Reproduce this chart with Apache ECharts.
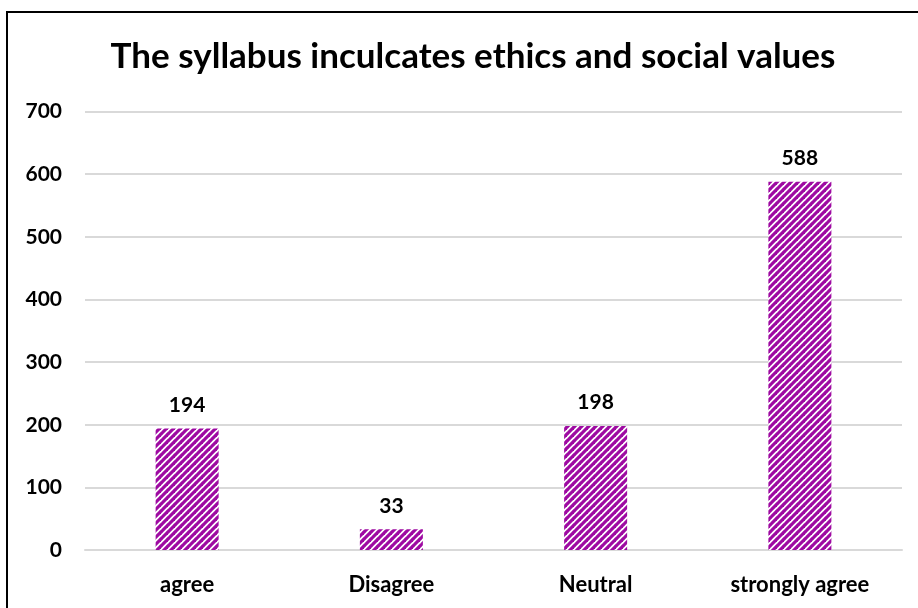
<!DOCTYPE html>
<html>
<head>
<meta charset="utf-8">
<script src="https://cdn.jsdelivr.net/npm/echarts@6/dist/echarts.min.js"></script>
<style>
html,body{margin:0;padding:0;background:#fff;}
#chart{width:918px;height:608px;}
</style>
</head>
<body>
<div id="chart"></div>
<script>
const titleText = 'The syllabus inculcates ethics and social values';
const categories = ['agree', 'Disagree', 'Neutral', 'strongly agree'];
const values = [194, 33, 198, 588];

function makePattern() {
  const s = 7;
  const c = document.createElement('canvas');
  c.width = s; c.height = s;
  const ctx = c.getContext('2d');
  ctx.fillStyle = '#ffffff';
  ctx.fillRect(0, 0, s, s);
  ctx.strokeStyle = '#9e0aa2';
  ctx.lineWidth = 3.2;
  for (let o = -s; o <= s; o += s) {
    ctx.beginPath();
    ctx.moveTo(o - 1, s + 1);
    ctx.lineTo(o + s + 1, -1);
    ctx.stroke();
  }
  return c;
}

const chart = echarts.init(document.getElementById('chart'));
const font = 'Lato, "Open Sans", sans-serif';
chart.setOption({
  backgroundColor: '#ffffff',
  animation: false,
  graphic: [{
    type: 'rect',
    shape: {x: 7, y: 12, width: 1000, height: 1000},
    style: {fill: 'none', stroke: '#000', lineWidth: 2},
    silent: true
  }],
  title: {
    text: titleText,
    left: 468, top: 34,
    textAlign: 'center',
    textStyle: {fontFamily: font, fontWeight: 'bold', fontSize: 35, color: '#000'}
  },
  grid: {left: 85, right: 16, top: 111.6, bottom: 58, containLabel: false},
  xAxis: {
    type: 'category',
    data: categories,
    axisLine: {show: true, lineStyle: {color: '#d9d9d9', width: 2}},
    axisTick: {show: false},
    axisLabel: {fontFamily: font, fontWeight: 'bold', fontSize: 22, color: '#000', margin: 24}
  },
  yAxis: {
    type: 'value',
    min: 0, max: 700, interval: 100,
    axisLine: {show: false},
    axisTick: {show: false},
    splitLine: {lineStyle: {color: '#d9d9d9', width: 2}},
    axisLabel: {fontFamily: font, fontWeight: 'bold', fontSize: 21, color: '#000', margin: 23}
  },
  series: [{
    type: 'bar',
    data: values,
    barWidth: 63,
    itemStyle: {color: {image: makePattern(), repeat: 'repeat'}},
    label: {show: true, position: 'top', distance: 13, fontFamily: font, fontWeight: 'bold', fontSize: 21, color: '#000'}
  }]
});
</script>
</body>
</html>
